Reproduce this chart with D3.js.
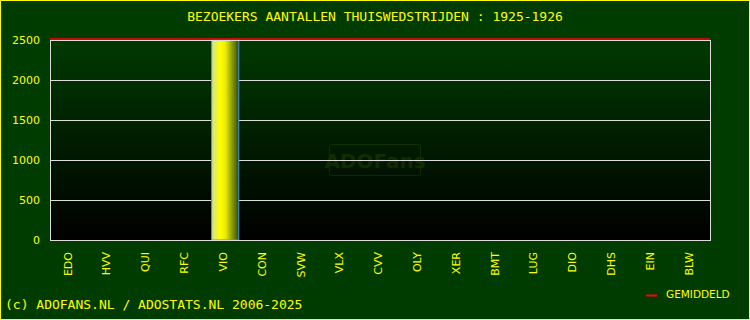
<!DOCTYPE html>
<html>
<head>
<meta charset="utf-8">
<script src="https://cdn.jsdelivr.net/npm/d3@7"></script>
<style>
  body { margin: 0; background: #003c00; }
  svg { display: block; }
</style>
</head>
<body>
<div id="chart"></div>
<script>
// Data
const teams = ["EDO", "HVV", "QUI", "RFC", "VIO", "CON", "SVW", "VLX", "CVV", "OLY", "XER", "BMT", "LUG", "DIO", "DHS", "EIN", "BLW"];
const visitors = [0, 0, 0, 0, 2500, 0, 0, 0, 0, 0, 0, 0, 0, 0, 0, 0, 0];
const yTicks = [0, 500, 1000, 1500, 2000, 2500];
const title = "BEZOEKERS AANTALLEN THUISWEDSTRIJDEN : 1925-1926";

const width = 750, height = 320;
const margin = { top: 40, right: 40, bottom: 80, left: 50 };

const played = visitors.filter(v => v > 0);
const average = d3.mean(played);

const svg = d3.select("#chart")
    .append("svg")
    .attr("width", width)
    .attr("height", height);

const defs = svg.append("defs");

// background gradient of the plot area
const bg = defs.append("linearGradient")
    .attr("id", "plotBg")
    .attr("x1", 0).attr("y1", 0).attr("x2", 0).attr("y2", 1);
bg.append("stop").attr("offset", "0%").attr("stop-color", "#003a00");
bg.append("stop").attr("offset", "100%").attr("stop-color", "#000000");

// horizontal gradient of the bars
const barGrad = defs.append("linearGradient")
    .attr("id", "barGrad")
    .attr("x1", 0).attr("y1", 0).attr("x2", 1).attr("y2", 0);
barGrad.append("stop").attr("offset", "0%").attr("stop-color", "#d0e090");
barGrad.append("stop").attr("offset", "30%").attr("stop-color", "#ffff00");
barGrad.append("stop").attr("offset", "50%").attr("stop-color", "#eeee00");
barGrad.append("stop").attr("offset", "100%").attr("stop-color", "#2c4c00");

// outer yellow border
svg.append("rect")
    .attr("x", 0.5).attr("y", 0.5)
    .attr("width", width - 1).attr("height", height - 1)
    .attr("fill", "#003c00")
    .attr("stroke", "#ffff00");

const x = d3.scaleBand()
    .domain(teams)
    .range([margin.left, width - margin.right])
    .paddingInner(0.3)
    .paddingOuter(0.15);

const y = d3.scaleLinear()
    .domain([0, 2500])
    .range([height - margin.bottom, margin.top]);

// plot background
svg.append("rect")
    .attr("x", margin.left)
    .attr("y", margin.top)
    .attr("width", width - margin.left - margin.right)
    .attr("height", height - margin.top - margin.bottom)
    .attr("fill", "url(#plotBg)");

// watermark
const wm = svg.append("g").attr("opacity", 0.18);
wm.append("rect")
    .attr("x", 329.5).attr("y", 144.5)
    .attr("width", 91).attr("height", 31)
    .attr("rx", 2)
    .attr("fill", "none")
    .attr("stroke", "#6a8a00");
wm.append("text")
    .attr("x", 375).attr("y", 168)
    .attr("text-anchor", "middle")
    .style("font", "bold 20px 'DejaVu Sans'")
    .attr("fill", "#6a8a00")
    .text("ADOFans");

// grid lines
svg.append("g")
    .attr("transform", `translate(${margin.left},0)`)
    .call(d3.axisLeft(y).tickValues(yTicks).tickSize(-(width - margin.left - margin.right)).tickFormat(""))
    .call(g => g.select(".domain").remove())
    .call(g => g.selectAll("line").attr("stroke", "#dddddd"));

// y tick labels
svg.append("g")
    .attr("transform", `translate(${margin.left},0)`)
    .call(d3.axisLeft(y).tickValues(yTicks).tickFormat(d3.format("d")).tickSize(0).tickPadding(10))
    .call(g => g.select(".domain").remove())
    .call(g => g.selectAll("text")
        .attr("fill", "#ffff00")
        .style("font", "11px 'DejaVu Sans'"));

// bars
svg.selectAll(".bar")
    .data(teams.map((t, i) => ({ team: t, value: visitors[i] })).filter(d => d.value > 0))
    .enter()
    .append("rect")
    .attr("class", "bar")
    .attr("x", d => x(d.team) + 0.5)
    .attr("y", d => y(d.value))
    .attr("width", x.bandwidth())
    .attr("height", d => y(0) - y(d.value))
    .attr("fill", "url(#barGrad)")
    .attr("stroke", "#4f94ef")
    .attr("stroke-width", 1);

// plot border
svg.append("rect")
    .attr("x", margin.left + 0.5)
    .attr("y", margin.top + 0.5)
    .attr("width", width - margin.left - margin.right)
    .attr("height", height - margin.top - margin.bottom)
    .attr("fill", "none")
    .attr("stroke", "#dddddd");

// average line
svg.append("line")
    .attr("x1", margin.left)
    .attr("x2", width - margin.right)
    .attr("y1", y(average) - 1)
    .attr("y2", y(average) - 1)
    .attr("stroke", "#ff0000")
    .attr("stroke-width", 1.5);

// x labels
svg.append("g")
    .attr("transform", `translate(0,${height - margin.bottom})`)
    .call(d3.axisBottom(x).tickSize(0).tickPadding(0))
    .call(g => g.select(".domain").remove())
    .call(g => g.selectAll("text")
        .attr("fill", "#ffff00")
        .style("font", "11px 'DejaVu Sans'")
        .attr("text-anchor", "end")
        .attr("dy", "0.2em")
        .attr("transform", "translate(0,12) rotate(-90)"));

// title
svg.append("text")
    .attr("x", width / 2)
    .attr("y", 21)
    .attr("text-anchor", "middle")
    .attr("fill", "#ffff00")
    .style("font", "13px 'DejaVu Sans Mono'")
    .text(title);

// footer
svg.append("text")
    .attr("x", 5)
    .attr("y", 309)
    .attr("fill", "#ffff00")
    .style("font", "13px 'DejaVu Sans Mono'")
    .text("(c) ADOFANS.NL / ADOSTATS.NL 2006-2025");

// legend
svg.append("line")
    .attr("x1", 646).attr("x2", 657)
    .attr("y1", 295.5).attr("y2", 295.5)
    .attr("stroke", "#ff0000")
    .attr("stroke-width", 2);
svg.append("text")
    .attr("x", 666)
    .attr("y", 298)
    .attr("fill", "#ffff00")
    .style("font", "10.5px 'DejaVu Sans'")
    .text("GEMIDDELD");
</script>
</body>
</html>
